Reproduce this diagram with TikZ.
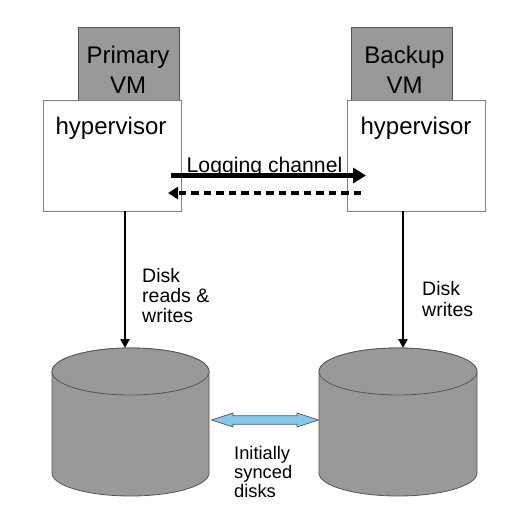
\documentclass[tikz,border=0pt]{standalone}
\usepackage{fontspec}
\setmainfont{Liberation Sans}
\usetikzlibrary{arrows.meta}
\definecolor{vmgray}{HTML}{999999}
\definecolor{edgegray}{HTML}{555555}
\definecolor{hvgray}{HTML}{808080}
\definecolor{syncblue}{HTML}{87C8EE}
\begin{document}
\begin{tikzpicture}[x=1pt,y=-1pt,
  vmbox/.style={draw=edgegray,fill=vmgray,line width=0.8pt,minimum width=101pt,minimum height=73pt,inner sep=0pt},
  hvbox/.style={draw=hvgray,fill=white,line width=0.8pt,minimum width=138pt,minimum height=111pt,inner sep=0pt},
  bigtxt/.style={font=\fontsize{24}{30}\selectfont,inner sep=0pt,align=center},
  midtxt/.style={font=\fontsize{19.5}{20}\selectfont,inner sep=0pt,align=left},
  smalltxt/.style={font=\fontsize{18.3}{18.7}\selectfont,inner sep=0pt,align=left},
  logtxt/.style={font=\fontsize{21.2}{24}\selectfont,inner sep=0pt},
  disk/.style={draw=edgegray,fill=vmgray,line width=0.8pt},
  iolink/.style={line width=2.5pt,-{Triangle[length=9pt,width=9pt]}},
]
\useasboundingbox (0,0) rectangle (513,526);

% VM boxes
\node[vmbox] (pvm) at (128.5,63.5) {};
\node[vmbox] (bvm) at (401.5,63.5) {};
\node[bigtxt,anchor=base] (pvmt) at (128,94) {Primary\\VM};
\node[bigtxt,anchor=base] (bvmt) at (404.5,94) {Backup\\VM};

% hypervisor boxes
\node[hvbox] (hv1) at (112,155.5) {};
\node[hvbox] (hv2) at (416.5,155.5) {};
\node[bigtxt,anchor=base] (hv1t) at (111,135) {hypervisor};
\node[bigtxt,anchor=base] (hv2t) at (416,135) {hypervisor};

% logging channel
\node[logtxt,anchor=base] (logt) at (264.5,173) {Logging channel};
\coordinate (ls) at (171,175.5);
\coordinate (le) at (366,175.5);
\coordinate (rs) at (361,193);
\coordinate (re) at (168,193);
\draw[line width=5pt,-{Triangle[length=13pt,width=15pt]}] (ls) -- (le);
\draw[line width=4pt,dash pattern=on 7.5pt off 5pt,-{Triangle[length=10pt,width=12pt]}] (rs) -- (re);

% disks
\draw[disk] (52,371.5) -- (52,473) arc[start angle=180,end angle=0,x radius=78.5,y radius=23] -- (209,371.5) arc[start angle=0,end angle=-180,x radius=78.5,y radius=23.5] -- cycle;
\draw[disk] (130.5,371.5) ellipse[x radius=78.5,y radius=23.5];
\draw[disk] (319,371.5) -- (319,473) arc[start angle=180,end angle=0,x radius=79,y radius=23] -- (477,371.5) arc[start angle=0,end angle=-180,x radius=79,y radius=23.5] -- cycle;
\draw[disk] (398,371.5) ellipse[x radius=79,y radius=23.5];
\coordinate (d1top) at (125,348);
\coordinate (d2top) at (403,348);

% disk I/O
\draw[iolink] (hv1.south -| d1top) -- (d1top);
\draw[iolink] (hv2.south -| d2top) -- (d2top);
\node[midtxt,anchor=base west] (io1) at (142,322) {Disk\\reads \&\\writes};
\node[midtxt,font=\fontsize{19.5}{21.5}\selectfont,anchor=base west] (io2) at (422,316.5) {Disk\\writes};

% sync arrow
\draw[draw=edgegray,fill=syncblue,line width=0.7pt]
  (211.5,420) -- (233,413) -- (233,415.7) -- (297,415.7) -- (297,413) -- (318.5,420)
  -- (297,427) -- (297,424.3) -- (233,424.3) -- (233,427) -- cycle;
\node[smalltxt,anchor=base west] (synct) at (234,497) {Initially\\synced\\disks};
\end{tikzpicture}
\end{document}
